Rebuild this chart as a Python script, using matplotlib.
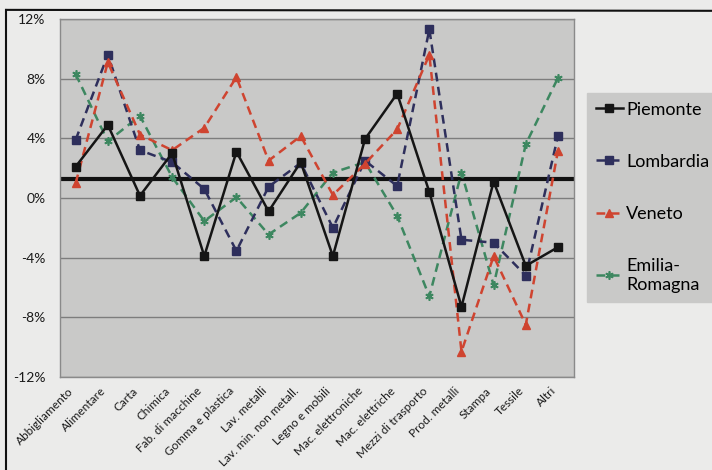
import numpy as np
import matplotlib.pyplot as plt
from matplotlib.lines import Line2D
from matplotlib.ticker import FuncFormatter

plt.rcParams['font.family'] = ['Lato', 'DejaVu Sans']

# categorie (settori)
settori = ['Abbigliamento', 'Alimentare', 'Carta', 'Chimica', 'Fab. di macchine',
           'Gomma e plastica', 'Lav. metalli', 'Lav. min. non metall.', 'Legno e mobili',
           'Mac. elettroniche', 'Mac. elettriche', 'Mezzi di trasporto', 'Prod. metalli',
           'Stampa', 'Tessile', 'Altri']

# variazioni in percentuale
piemonte = [2.1, 4.9, 0.15, 3.0, -3.9, 3.1, -0.9, 2.4, -3.9, 3.95, 7.0, 0.4, -7.3, 1.1, -4.55, -3.3]
lombardia = [3.9, 9.6, 3.2, 2.4, 0.6, -3.55, 0.75, 2.35, -2.0, 2.5, 0.8, 11.3, -2.8, -3.0, -5.2, 4.15]
veneto = [1.0, 9.1, 4.25, 3.2, 4.7, 8.1, 2.5, 4.15, 0.2, 2.3, 4.6, 9.6, -10.3, -3.9, -8.5, 3.15]
emilia = [8.3, 3.8, 5.5, 1.4, -1.55, 0.05, -2.45, -1.0, 1.7, 2.4, -1.2, -6.6, 1.7, -5.85, 3.6, 8.05]
media = 1.3

yticks = [-12, -8, -4, 0, 4, 8, 12]

fig = plt.figure(figsize=(7.12, 4.70), dpi=100)
fig.patch.set_facecolor('#ebebea')
ax = fig.add_axes([0.0837, 0.198, 0.7225, 0.7616])
ax.set_facecolor('#c9c9c8')

x = np.arange(len(settori))

ax.axhline(media, color='#111111', lw=3, zorder=2)

ax.plot(x, piemonte, color='#151515', lw=1.8, marker='s', ms=5.5, label='Piemonte', zorder=5)
ax.plot(x, lombardia, color='#2e2f5c', lw=1.8, ls=(0, (3.5, 2.2)), marker='s', ms=5.5,
        label='Lombardia', zorder=4)
ax.plot(x, veneto, color='#cf4430', lw=1.8, ls=(0, (3.5, 2.2)), marker='^', ms=6,
        label='Veneto', zorder=4)
ax.plot(x, emilia, color='#3d8760', lw=1.8, ls=(0, (3.5, 2.2)), marker=(6, 2, 0), ms=6,
        mew=1.2, label='Emilia-\nRomagna', zorder=3)

ax.set_xlim(-0.5, len(settori) - 0.5)
ax.set_ylim(-12, 12)
ax.set_yticks(yticks)
ax.yaxis.set_major_formatter(FuncFormatter(lambda v, p: '%d%%' % v))
ax.set_xticks(x)
ax.set_xticklabels(settori, rotation=45, ha='right', fontsize=8.5)
ax.tick_params(axis='both', length=0, colors='#1a1a1a')
ax.tick_params(axis='y', labelsize=10, pad=10)
ax.tick_params(axis='x', pad=6)
ax.grid(axis='y', color='#7d7d7d', lw=1)
ax.set_axisbelow(True)
for s in ax.spines.values():
    s.set_color('#8a8a8a')
    s.set_linewidth(1)

leg = fig.legend(loc='upper left', bbox_to_anchor=(0.824, 0.803), fontsize=13,
                 frameon=True, fancybox=False, handlelength=1.5, handletextpad=0.2,
                 labelspacing=2.0, borderpad=0.5, borderaxespad=0)
leg.get_frame().set_facecolor('#c9c9c8')
leg.get_frame().set_edgecolor('#c9c9c8')
leg.get_frame().set_alpha(1)

# cornice esterna
fig.add_artist(Line2D([0.0085, 0.0085], [0, 0.979], color='#111111', lw=1.5))
fig.add_artist(Line2D([0.0085, 1.0], [0.979, 0.977], color='#111111', lw=1.5))

plt.savefig('out.png', dpi=100, facecolor=fig.get_facecolor())
